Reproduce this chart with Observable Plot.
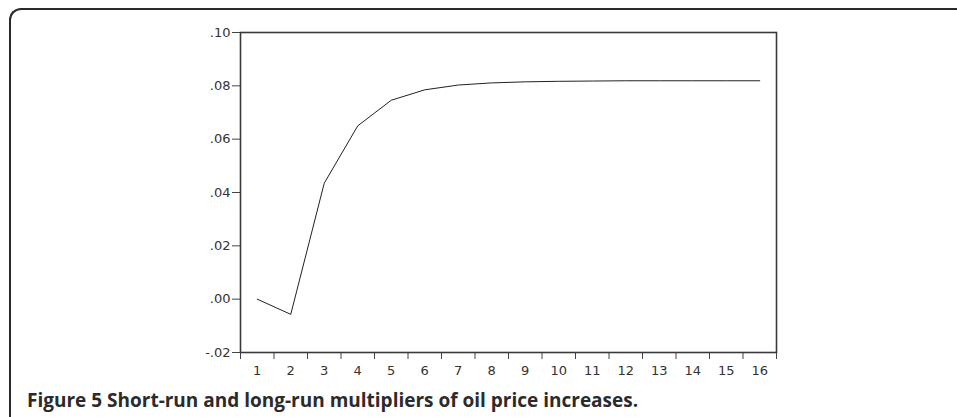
<!DOCTYPE html>
<html>
<head>
<meta charset="utf-8">
<script src="https://cdn.jsdelivr.net/npm/d3@7"></script>
<script src="https://cdn.jsdelivr.net/npm/@observablehq/plot@0.6"></script>
<style>
  html, body { margin: 0; padding: 0; background: #fff; }
  #wrap { position: relative; width: 957px; height: 417px; overflow: hidden; background: #fff; }
  #border { position: absolute; left: 9px; top: 8px; width: 1000px; height: 460px;
    border-left: 2px solid #2a2a2a; border-top: 2px solid #2a2a2a; border-top-left-radius: 12px; }
  #chart { position: absolute; left: 0; top: 0; }
  #caption { position: absolute; left: 27px; top: 387px; font-family: "Open Sans", sans-serif;
    font-weight: 700; font-size: 19px; color: #2b2b2b; white-space: nowrap; }
</style>
</head>
<body>
<div id="wrap">
  <div id="border"></div>
  <div id="chart"></div>
  <div id="caption">Figure 5 Short-run and long-run multipliers of oil price increases.</div>
</div>
<script>
const periods = [1,2,3,4,5,6,7,8,9,10,11,12,13,14,15,16];
const multipliers = [0.0000, -0.0057, 0.0435, 0.0650, 0.0746, 0.0785, 0.0803, 0.0811, 0.0815, 0.0817, 0.0818, 0.0819, 0.0819, 0.0819, 0.0819, 0.0819];
const yTicks = [-0.02, 0.00, 0.02, 0.04, 0.06, 0.08, 0.10];
const xTickLabels = periods;
const xTickMarks = [0.5,1.5,2.5,3.5,4.5,5.5,6.5,7.5,8.5,9.5,10.5,11.5,12.5,13.5,14.5,15.5,16.5];

const data = periods.map((p, i) => ({period: p, value: multipliers[i]}));
const fmtY = d => {
  const s = Math.abs(d).toFixed(2).replace(/^0/, "");
  return (d < -1e-9 ? "-" : "") + s;
};

const font = "'DejaVu Sans', sans-serif";
const chart = Plot.plot({
  width: 957,
  height: 390,
  marginLeft: 240,
  marginRight: 181,
  marginTop: 32,
  marginBottom: 38,
  style: {fontFamily: font, fontSize: "13px", color: "#333", background: "transparent"},
  x: {domain: [0.5, 16.5]},
  y: {domain: [-0.02, 0.10]},
  marks: [
    Plot.axisY({ticks: yTicks, tickFormat: fmtY, tickSize: 8, tickPadding: 2, label: null, stroke: "#444", fontSize: 13, fill: "#333"}),
    Plot.axisX({ticks: xTickMarks, tickFormat: () => "", tickSize: 7, label: null, stroke: "#444"}),
    Plot.axisX({ticks: xTickLabels, tickFormat: d => String(d), tickSize: 0, tickPadding: 13, label: null, fontSize: 13, fill: "#333"}),
    Plot.frame({stroke: "#3a3a3a", strokeWidth: 1.6}),
    Plot.line(data, {x: "period", y: "value", stroke: "#222", strokeWidth: 1})
  ]
});
document.getElementById("chart").appendChild(chart);
</script>
</body>
</html>
